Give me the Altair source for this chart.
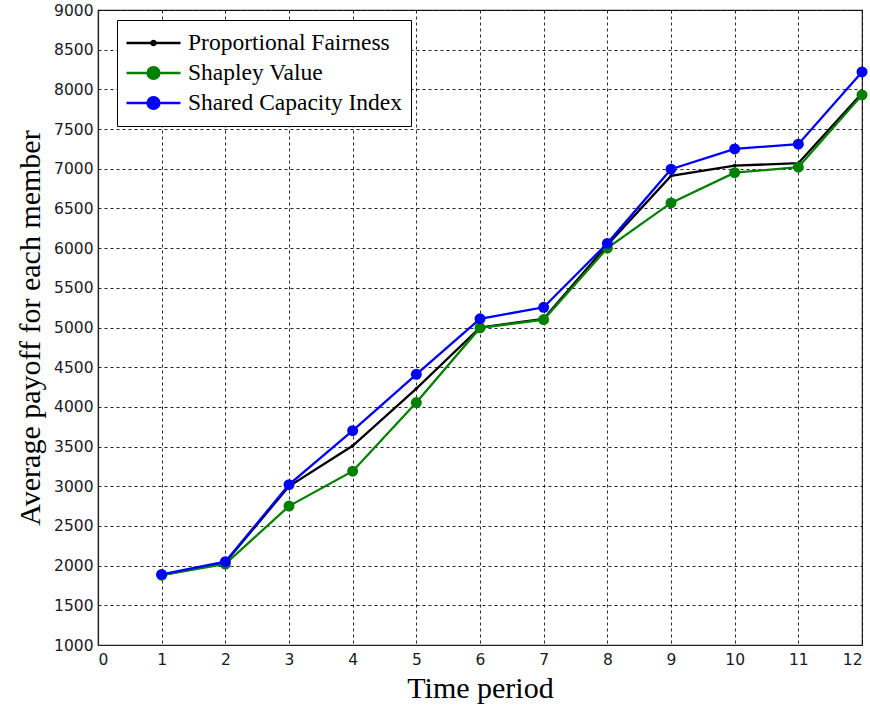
import altair as alt
import pandas as pd

periods = list(range(1, 13))
series_names = ["Proportional Fairness", "Shapley Value", "Shared Capacity Index"]
pf = [1880, 2040, 3000, 3510, 4230, 5000, 5110, 6040, 6910, 7040, 7070, 7950]
sv = [1880, 2020, 2750, 3190, 4055, 4995, 5100, 6000, 6570, 6950, 7020, 7930]
sci = [1890, 2050, 3020, 3700, 4410, 5110, 5255, 6060, 6995, 7250, 7310, 8220]
x_ticks = list(range(0, 13))
y_ticks = list(range(1000, 9001, 500))
colors = ["#000000", "#008000", "#0000FF"]
marker_sizes = [12, 120, 120]

rows = []
for name, vals in zip(series_names, [pf, sv, sci]):
    for p, v in zip(periods, vals):
        rows.append({"period": p, "payoff": v, "series": name})
df = pd.DataFrame(rows)

AXIS_COMMON = dict(
    grid=True, gridColor="#000000", gridDash=[3, 3], gridOpacity=0.85, gridWidth=1,
    ticks=False, domainColor="#222222", domainWidth=1.2,
    labelFont="DejaVu Sans", labelFontSize=15.5, labelColor="#1a1a2a",
    titleFont="Liberation Serif", titleFontSize=30, titleFontWeight="normal",
    titleColor="#000000", format="d",
)

def X():
    return alt.X("period:Q", scale=alt.Scale(domain=[0, 12], nice=False),
                 axis=alt.Axis(values=x_ticks, title="Time period", labelPadding=7,
                               titlePadding=6, **AXIS_COMMON))

def Y():
    return alt.Y("payoff:Q", scale=alt.Scale(domain=[1000, 9000], nice=False),
                 axis=alt.Axis(values=y_ticks, title="Average payoff for each member",
                               labelPadding=5, titlePadding=8, **AXIS_COMMON))

base = alt.Chart(df)
layers = []
for name, color, msize in zip(series_names, colors, marker_sizes):
    sub = base.transform_filter(alt.datum.series == name)
    layers.append(sub.mark_line(color=color, strokeWidth=2.3).encode(x=X(), y=Y()))
    layers.append(sub.mark_point(filled=True, color=color, size=msize, opacity=1).encode(x=X(), y=Y()))

path_pf = "M-1,0H1M-0.08,0A0.08,0.08,0,1,0,0.08,0A0.08,0.08,0,1,0,-0.08,0"
path_c = "M-1,0H1M-0.22,0A0.22,0.22,0,1,0,0.22,0A0.22,0.22,0,1,0,-0.22,0"

def LEG():
    return alt.Legend(title=None, orient="none", legendX=19, legendY=10, padding=8,
                      clipHeight=30, rowPadding=0, labelFont="Liberation Serif",
                      labelFontSize=23.5, labelColor="#000000", strokeColor="#000000",
                      fillColor="#ffffff", symbolSize=2916, symbolStrokeWidth=2.3,
                      labelOffset=6, labelLimit=400, cornerRadius=0)

dummy = base.transform_filter("false").mark_point(
    filled=False, size=2916, strokeWidth=2.3, opacity=1
).encode(
    x=X(), y=Y(),
    color=alt.Color("series:N", scale=alt.Scale(domain=series_names, range=colors), legend=LEG()),
    fill=alt.Fill("series:N", scale=alt.Scale(domain=series_names, range=colors), legend=LEG()),
    shape=alt.Shape("series:N", scale=alt.Scale(domain=series_names, range=[path_pf, path_c, path_c]), legend=LEG()),
)

chart = alt.layer(*layers, dummy).properties(
    width=764, height=635,
    padding={"left": 98, "top": 10, "right": 8, "bottom": 68},
    autosize="none",
    background="#ffffff",
).configure_view(stroke="#222222", strokeWidth=1.2)

chart.save("out.html", embed_options={"renderer": "svg", "actions": False})
